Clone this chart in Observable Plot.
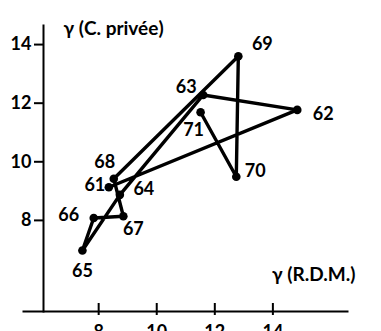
<!DOCTYPE html>
<html>
<head>
<meta charset="utf-8">
<script src="https://cdn.jsdelivr.net/npm/d3@7"></script>
<script src="https://cdn.jsdelivr.net/npm/@observablehq/plot@0.6"></script>
<style>
  html, body { margin: 0; padding: 0; background: #fff; }
  svg { display: block; }
</style>
</head>
<body>
<div id="chart"></div>
<script>
// Years 1961–1971: gamma of the R.D.M. (x) against gamma of private consumption (y)
const years = [61, 62, 63, 64, 65, 66, 67, 68, 69, 70, 71];
const gammaRDM = [8.35, 14.84, 11.60, 8.73, 7.44, 7.83, 8.85, 8.52, 12.81, 12.74, 11.51];
const gammaCPrivee = [9.37, 12.01, 12.52, 9.11, 7.21, 8.32, 8.38, 9.66, 13.84, 9.73, 11.93];
const xTicks = [8, 10, 12, 14];
const yTicks = [8, 10, 12, 14];

// label offsets (px) so each year sits beside its point
const labelOffsets = {
  61: [-14, -2], 62: [26, 4], 63: [-17, -8], 64: [24, -6], 65: [0, 21],
  66: [-25, -3], 67: [10, 13], 68: [-9, -17], 69: [24, -12], 70: [19, -5], 71: [-7, 18]
};

const rows = years.map((year, i) => ({year, x: gammaRDM[i], y: gammaCPrivee[i]}));

const font = "Lato, 'Open Sans', sans-serif";

const chart = Plot.plot({
  width: 381,
  height: 331,
  marginLeft: 43,
  marginRight: 34,
  marginTop: 25,
  marginBottom: 20,
  style: {fontFamily: font, fontWeight: 700, color: "#000", background: "#fff"},
  x: {domain: [6.1, 16.57]},
  y: {domain: [5.13, 14.89]},
  marks: [
    // axes
    Plot.frame({anchor: "left", stroke: "#000", strokeWidth: 2}),
    Plot.frame({anchor: "bottom", stroke: "#000", strokeWidth: 2, insetLeft: -20}),
    Plot.axisY({ticks: yTicks, tickSize: 9, tickPadding: 3, strokeWidth: 2, fontSize: 18, dy: -7, label: null, tickFormat: d => d}),
    Plot.axisX({ticks: xTicks, tickSize: 12, dy: -8, strokeWidth: 2, text: null, label: null}),
    Plot.axisX({ticks: xTicks, tickSize: 0, tickPadding: 14, fontSize: 18, label: null, tickFormat: d => d}),
    // axis titles
    Plot.text(["γ (C. privée)"], {frameAnchor: "top-left", textAnchor: "start", lineAnchor: "middle", dx: 20, dy: 3, fontSize: 19, fontWeight: 700}),
    Plot.text(["γ (R.D.M.)"], {frameAnchor: "bottom-right", textAnchor: "end", lineAnchor: "middle", dx: 8, dy: -37, fontSize: 19, fontWeight: 700}),
    // yearly trajectory
    Plot.line(rows, {x: "x", y: "y", stroke: "#000", strokeWidth: 3.4, strokeLinejoin: "round"}),
    Plot.dot(rows, {x: "x", y: "y", r: 4.3, fill: "#000", stroke: null}),
    ...rows.map(d => Plot.text([d], {
      x: "x", y: "y", text: "year",
      dx: labelOffsets[d.year][0], dy: labelOffsets[d.year][1],
      fontSize: 18, fontWeight: 700, fill: "#000"
    }))
  ]
});

document.getElementById("chart").appendChild(chart);
</script>
</body>
</html>
